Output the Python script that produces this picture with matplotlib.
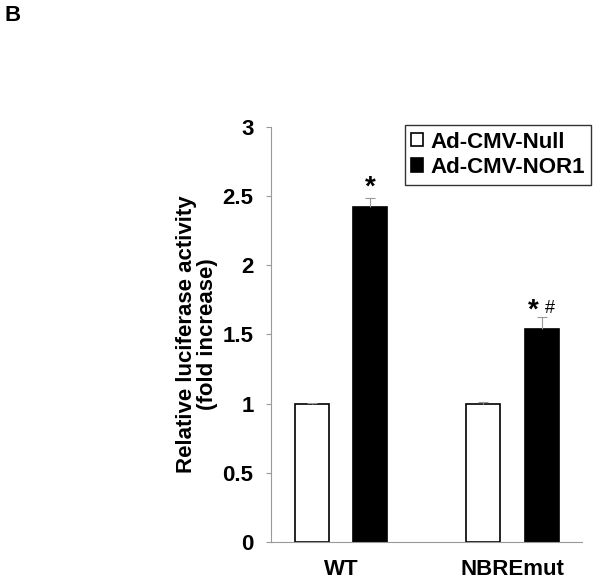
import numpy as np
import matplotlib
matplotlib.use('Agg')
from matplotlib import pyplot as plt

plt.rcParams['font.family'] = ['Liberation Sans', 'DejaVu Sans']

GROUPS = ['WT', 'NBREmut']
SERIES = ['Ad-CMV-Null', 'Ad-CMV-NOR1']
NULL_VALS = [1.0, 1.0]
NULL_ERR = [0.005, 0.015]
NOR1_VALS = [2.42, 1.54]
NOR1_ERR = [0.07, 0.09]
MARKS = ['*', '*']
HASH = ['', '#']

fig = plt.figure(figsize=(6, 5.83), dpi=100)
ax = fig.add_axes([0.4517, 0.0703, 0.5183, 0.7119])

x = np.arange(len(GROUPS))
w = 0.198
off = 0.171
ekw = dict(ecolor='#999999', elinewidth=0.8, capsize=3.6, capthick=0.8)
b1 = ax.bar(x - off, NULL_VALS, w, color='white', edgecolor='black', linewidth=1.2,
            yerr=[np.zeros(len(NULL_ERR)), NULL_ERR], error_kw=ekw, label=SERIES[0])
b2 = ax.bar(x + off, NOR1_VALS, w, color='black', edgecolor='black', linewidth=1.2,
            yerr=[np.zeros(len(NOR1_ERR)), NOR1_ERR], error_kw=ekw, label=SERIES[1])
# plus-only error bars: hide the lower caps
for b in (b1, b2):
    caps = b.errorbar.lines[1]
    caps[0].set_visible(False)

for i in range(len(GROUPS)):
    top = NOR1_VALS[i] + NOR1_ERR[i]
    if HASH[i]:
        ax.text(x[i] + off - 0.05, top + 0.04, MARKS[i], ha='center', va='center',
                fontsize=20, fontweight='bold')
        ax.text(x[i] + off + 0.045, top + 0.06, HASH[i], ha='center', va='center',
                fontsize=13)
    else:
        ax.text(x[i] + off, top + 0.07, MARKS[i], ha='center', va='center',
                fontsize=20, fontweight='bold')

ax.set_xlim(-0.408, 1.405)
ax.set_ylim(0, 3)
ax.set_yticks([0, 0.5, 1, 1.5, 2, 2.5, 3])
ax.set_yticklabels(['0', '0.5', '1', '1.5', '2', '2.5', '3'])
ax.set_xticks(x)
ax.set_xticklabels(GROUPS)
ax.tick_params(axis='x', length=0, pad=12, labelsize=16)
ax.tick_params(axis='y', length=3.6, color='#999999', width=0.8, pad=9, labelsize=16)
for lab in ax.get_xticklabels() + ax.get_yticklabels():
    lab.set_fontweight('bold')

for s in ['top', 'right']:
    ax.spines[s].set_visible(False)
for s in ['left', 'bottom']:
    ax.spines[s].set_color('#999999')
    ax.spines[s].set_linewidth(0.8)

ax.set_ylabel('Relative luciferase activity\n(fold increase)', fontsize=16,
              fontweight='bold', labelpad=3, linespacing=1.05)

leg = ax.legend(loc='upper right', bbox_to_anchor=(1.03, 1.005), frameon=True,
                fancybox=False, edgecolor='black', handlelength=0.55, handleheight=0.55,
                handletextpad=0.3, borderpad=0.3, labelspacing=0.2,
                borderaxespad=0, prop={'weight': 'bold', 'size': 16})
leg.get_frame().set_linewidth(1.0)

fig.text(0.007, 0.974, 'B', fontsize=16, fontweight='bold', ha='left', va='center')

fig.savefig('out.png', dpi=100)
